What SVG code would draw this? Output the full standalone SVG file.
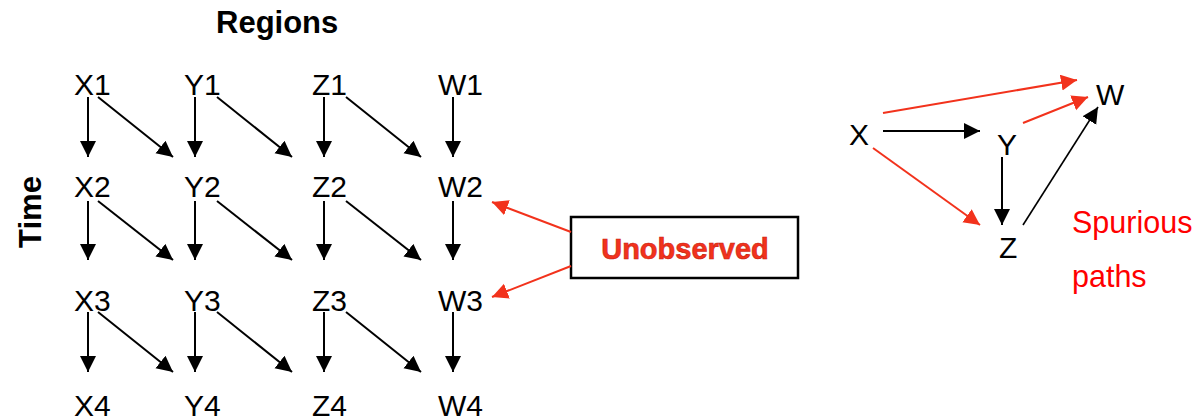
<svg xmlns="http://www.w3.org/2000/svg" width="1201" height="416" viewBox="0 0 1201 416">
<style>
.t{font-family:"Liberation Sans",Arial,sans-serif;font-size:30px;fill:#000}
.b{font-family:"Liberation Sans",Arial,sans-serif;font-size:31px;font-weight:bold;fill:#000}
.k{stroke:#000;stroke-width:2;fill:none}
.kt{stroke:#000;stroke-width:1.6;fill:none}
.r{stroke:#f2321c;stroke-width:2;fill:none}
</style>
<defs>
<marker id="ak" markerUnits="userSpaceOnUse" markerWidth="17" markerHeight="17" refX="16" refY="8" orient="auto" viewBox="0 0 17 17"><path d="M0,0 L16,8 L0,16 z" fill="#000"/></marker>
<marker id="ar" markerUnits="userSpaceOnUse" markerWidth="17" markerHeight="17" refX="16" refY="8" orient="auto" viewBox="0 0 17 17"><path d="M0,0 L16,8 L0,16 z" fill="#f2321c"/></marker>
</defs>
<g id="labels">
<text class="b" x="216" y="33">Regions</text>
<text class="b" transform="translate(41,212) rotate(-90)" text-anchor="middle">Time</text>
</g>
<g id="X1"><text class="t" x="74" y="95">X1</text></g>
<g id="Y1"><text class="t" x="184" y="95">Y1</text></g>
<g id="Z1"><text class="t" x="312" y="95">Z1</text></g>
<g id="W1"><text class="t" x="438" y="95">W1</text></g>
<g id="X2"><text class="t" x="74" y="197">X2</text></g>
<g id="Y2"><text class="t" x="184" y="197">Y2</text></g>
<g id="Z2"><text class="t" x="312" y="197">Z2</text></g>
<g id="W2"><text class="t" x="438" y="197">W2</text></g>
<g id="X3"><text class="t" x="74" y="311">X3</text></g>
<g id="Y3"><text class="t" x="184" y="311">Y3</text></g>
<g id="Z3"><text class="t" x="312" y="311">Z3</text></g>
<g id="W3"><text class="t" x="438" y="311">W3</text></g>
<g id="X4"><text class="t" x="74" y="416">X4</text></g>
<g id="Y4"><text class="t" x="184" y="416">Y4</text></g>
<g id="Z4"><text class="t" x="312" y="416">Z4</text></g>
<g id="W4"><text class="t" x="438" y="416">W4</text></g>
<g id="unobserved">
<rect x="571" y="217" width="227" height="61" fill="#fff" stroke="#000" stroke-width="2.5"/>
<text x="685" y="259" text-anchor="middle" font-family="'Liberation Sans',Arial,sans-serif" font-size="29" font-weight="bold" fill="#f2321c" stroke="#c81e10" stroke-width="0.6">Unobserved</text>
</g>
<g id="X"><text class="t" x="849" y="145">X</text></g>
<g id="Y"><text class="t" x="997" y="155">Y</text></g>
<g id="Z"><text class="t" x="999" y="258">Z</text></g>
<g id="W"><text class="t" x="1096" y="105">W</text></g>
<g id="spurious">
<text x="1072" y="233" font-family="'Liberation Sans',Arial,sans-serif" font-size="30.5" fill="#ff0000">Spurious</text>
<text x="1072" y="287" font-family="'Liberation Sans',Arial,sans-serif" font-size="30.5" fill="#ff0000">paths</text>
</g>
<g id="connectors">
<line class="k" x1="88" y1="97" x2="88" y2="157" marker-end="url(#ak)"/>
<line class="k" x1="98" y1="97" x2="173" y2="157" marker-end="url(#ak)"/>
<line class="k" x1="195" y1="97" x2="195" y2="157" marker-end="url(#ak)"/>
<line class="k" x1="217" y1="97" x2="292" y2="157" marker-end="url(#ak)"/>
<line class="k" x1="324" y1="97" x2="324" y2="157" marker-end="url(#ak)"/>
<line class="k" x1="346" y1="97" x2="421" y2="157" marker-end="url(#ak)"/>
<line class="k" x1="453" y1="97" x2="453" y2="157" marker-end="url(#ak)"/>

<line class="k" x1="88" y1="201" x2="88" y2="260" marker-end="url(#ak)"/>
<line class="k" x1="98" y1="201" x2="173" y2="260" marker-end="url(#ak)"/>
<line class="k" x1="195" y1="201" x2="195" y2="260" marker-end="url(#ak)"/>
<line class="k" x1="217" y1="201" x2="292" y2="260" marker-end="url(#ak)"/>
<line class="k" x1="324" y1="201" x2="324" y2="260" marker-end="url(#ak)"/>
<line class="k" x1="346" y1="201" x2="421" y2="260" marker-end="url(#ak)"/>
<line class="k" x1="453" y1="201" x2="453" y2="260" marker-end="url(#ak)"/>

<line class="k" x1="88" y1="312" x2="88" y2="372" marker-end="url(#ak)"/>
<line class="k" x1="98" y1="312" x2="173" y2="372" marker-end="url(#ak)"/>
<line class="k" x1="195" y1="312" x2="195" y2="372" marker-end="url(#ak)"/>
<line class="k" x1="217" y1="312" x2="292" y2="372" marker-end="url(#ak)"/>
<line class="k" x1="324" y1="312" x2="324" y2="372" marker-end="url(#ak)"/>
<line class="k" x1="346" y1="312" x2="421" y2="372" marker-end="url(#ak)"/>
<line class="k" x1="453" y1="312" x2="453" y2="372" marker-end="url(#ak)"/>

<line class="r" x1="571" y1="232" x2="492" y2="202" marker-end="url(#ar)"/>
<line class="r" x1="571" y1="266" x2="492" y2="297" marker-end="url(#ar)"/>

<line class="k" x1="883" y1="131" x2="980" y2="131" marker-end="url(#ak)"/>
<line class="k" x1="1002" y1="157" x2="1002" y2="225" marker-end="url(#ak)"/>
<line class="kt" x1="1023" y1="225" x2="1098" y2="107" marker-end="url(#ak)"/>
<line class="r" x1="883" y1="113" x2="1077" y2="80" marker-end="url(#ar)"/>
<line class="r" x1="1023" y1="123" x2="1088" y2="97" marker-end="url(#ar)"/>
<line class="r" x1="873" y1="148" x2="980" y2="225" marker-end="url(#ar)"/>
</g>
</svg>
